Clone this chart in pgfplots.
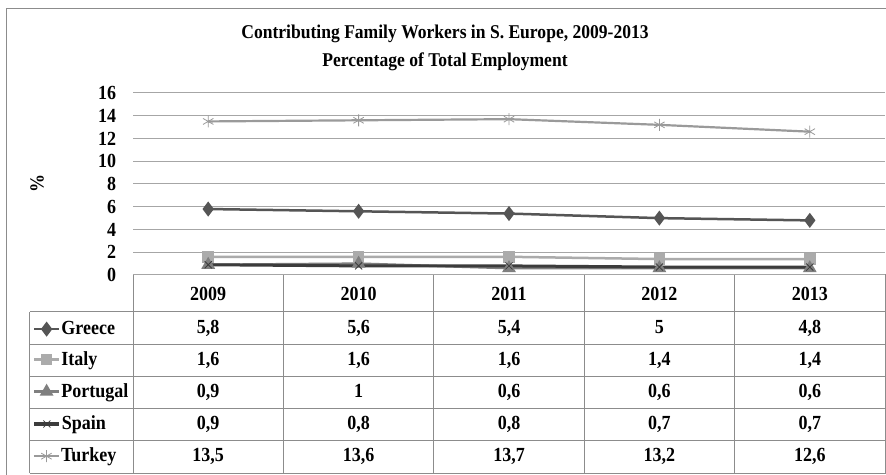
\documentclass[border=0pt]{standalone}
\usepackage{fontspec}
\setmainfont{Liberation Serif}[FakeStretch=0.9]
\usepackage{pgfplots}
\usepackage{pgfplotstable}
\pgfplotsset{compat=1.18}

\definecolor{cgreece}{HTML}{555555}
\definecolor{citaly}{HTML}{ABABAB}
\definecolor{cport}{HTML}{7F7F7F}
\definecolor{cspain}{HTML}{3C3C3C}
\definecolor{cturk}{HTML}{9A9A9A}
\definecolor{gridgray}{HTML}{A6A6A6}
\definecolor{tabgray}{HTML}{8C8C8C}

\pgfplotstableread{
x year greece italy portugal spain turkey
0 2009 5.8 1.6 0.9 0.9 13.5
1 2010 5.6 1.6 1.0 0.8 13.6
2 2011 5.4 1.6 0.6 0.8 13.7
3 2012 5.0 1.4 0.6 0.7 13.2
4 2013 4.8 1.4 0.6 0.7 12.6
}\datatable

\newcommand{\chartfont}{\fontsize{20bp}{24bp}\selectfont\bfseries}

\tikzset{
  sgreece/.style={cgreece, line width=2.5bp, mark=diamond*, mark size=5.5bp},
  sitaly/.style={citaly, line width=2.5bp, mark=square*, mark size=4.5bp},
  sport/.style={cport, line width=2.5bp, mark=triangle*, mark size=5.5bp},
  sspain/.style={cspain, line width=3bp, mark=x, mark size=5bp, mark options={line width=0.8bp}},
  sturk/.style={cturk, line width=2.2bp, mark=asterisk, mark size=6bp, mark options={line width=0.8bp}},
}

% small legend picture for the row labels of the data table
\newcommand{\lgimg}[1]{\tikz[baseline=-0.6ex]{\draw[#1] (0,0) -- (25bp,0);
  \draw[#1] plot coordinates {(12.5bp,0)};}\hspace{1bp}}

\begin{document}
\chartfont
\begin{tikzpicture}
\useasboundingbox (0,0) rectangle (886bp,475bp);
\fill[white] (0,0) rectangle (886bp,475bp);
\draw[tabgray, line width=1bp] (6bp,0) -- (6bp,466bp) -- (886bp,466bp);

% data table below the chart
\begin{axis}[
  name=tab,
  at={(133bp,2bp)}, anchor=south west,
  scale only axis, width=752bp, height=198bp,
  xmin=-0.5, xmax=4.5, ymin=0, ymax=6.149,
  clip=false,
  axis line style={tabgray, line width=1bp},
  xtick={-0.5,0.5,...,4.5}, xticklabels={},
  xmajorgrids, major grid style={tabgray, line width=1bp},
  ytick={0.5,1.5,2.5,3.5,4.5},
  yticklabels={{\lgimg{sturk}Turkey},{\lgimg{sspain}Spain},{\lgimg{sport}Portugal},{\lgimg{sitaly}Italy},{\lgimg{sgreece}Greece}},
  minor ytick={0,1,...,5}, yminorgrids, minor grid style={tabgray, line width=1bp},
  major tick length=0pt, minor tick length=103bp,
  tick align=outside, ytick pos=left,
  minor tick style={tabgray, line width=1bp},
  tick label style={font=\chartfont},
  yticklabel style={anchor=west, xshift=-107bp},
  /pgf/number format/.cd, fixed, precision=1, use comma, assume math mode=true,
  /pgfplots/.cd,
  every node near coord/.append style={anchor=center, black, font=\chartfont,
    text height=14bp, text depth=4bp},
]
\addplot[black, draw=none, mark=none, nodes near coords, point meta=explicit] table[x=x, y expr=4.5, meta=greece]{\datatable};
\addplot[black, draw=none, mark=none, nodes near coords, point meta=explicit] table[x=x, y expr=3.5, meta=italy]{\datatable};
\addplot[black, draw=none, mark=none, nodes near coords, point meta=explicit] table[x=x, y expr=2.5, meta=portugal]{\datatable};
\addplot[black, draw=none, mark=none, nodes near coords, point meta=explicit] table[x=x, y expr=1.5, meta=spain]{\datatable};
\addplot[black, draw=none, mark=none, nodes near coords, point meta=explicit] table[x=x, y expr=0.5, meta=turkey]{\datatable};
\draw[tabgray, line width=1bp] ([xshift=-103bp]axis cs:-0.5,0) -- ([xshift=-103bp]axis cs:-0.5,5);
\end{axis}

% the line chart
\begin{axis}[
  name=main,
  at={(133bp,200bp)}, anchor=south west,
  scale only axis, width=752bp, height=182bp,
  xmin=-0.5, xmax=4.5, ymin=0, ymax=16,
  clip=false,
  axis line style={draw=none},
  xtick={0,...,4}, xticklabels={2009,2010,2011,2012,2013},
  tick label style={font=\chartfont},
  xticklabel style={yshift=-5bp},
  ytick={0,2,...,16}, ymajorgrids, major grid style={gridgray, line width=1bp},
  major tick length=0pt, ytick pos=left, xtick pos=bottom,
  yticklabel style={xshift=-10bp},
  /pgf/number format/assume math mode=true,
  ylabel={\%},
  every axis y label/.style={at={(rel axis cs:0,0.505)}, xshift=-96bp, rotate=90, anchor=center, font=\chartfont},
]
\addplot[sgreece] table[x=x, y=greece]{\datatable};
\addplot[sitaly] table[x=x, y=italy]{\datatable};
\addplot[sport] table[x=x, y=portugal]{\datatable};
\addplot[sspain] table[x=x, y=spain]{\datatable};
\addplot[sturk] table[x=x, y=turkey]{\datatable};
\end{axis}

\node[align=center, font=\fontsize{19.5bp}{28bp}\selectfont\bfseries] at (445bp,427bp)
  {Contributing Family Workers in S. Europe, 2009-2013\\Percentage of Total Employment};
\end{tikzpicture}
\end{document}
